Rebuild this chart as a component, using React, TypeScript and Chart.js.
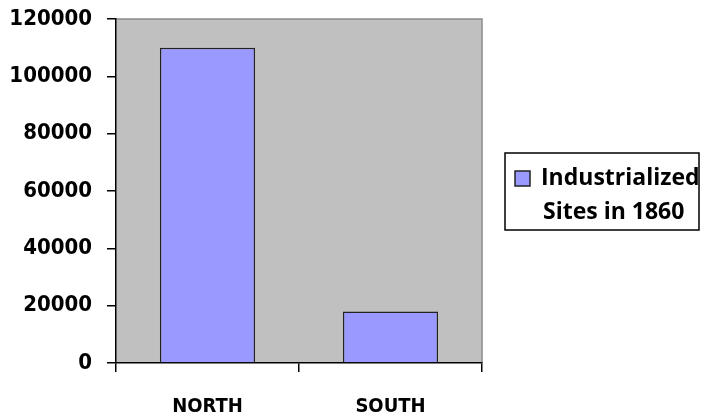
import React, { useEffect, useRef } from "react";
import { Chart, registerables } from "chart.js";

Chart.register(...registerables);

const CATEGORIES = ["NORTH", "SOUTH"];
const SITES_1860 = [110000, 18000];
const LEGEND_LINES = ["Industrialized", "Sites in 1860"];
const Y_MIN = 0;
const Y_MAX = 120000;
const Y_STEP = 20000;

const AXIS_FONT = "'DejaVu Sans Condensed', 'DejaVu Sans', sans-serif";

const plotBg = {
  id: "plotBg",
  beforeDraw(chart: any) {
    const { ctx, chartArea: a } = chart;
    ctx.save();
    ctx.fillStyle = "#c0c0c0";
    ctx.fillRect(a.left, a.top, a.right - a.left, a.bottom - a.top);
    ctx.strokeStyle = "#8a8a8a";
    ctx.lineWidth = 1.5;
    ctx.beginPath();
    ctx.moveTo(a.left, a.top);
    ctx.lineTo(a.right, a.top);
    ctx.lineTo(a.right, a.bottom);
    ctx.stroke();
    ctx.restore();
  },
};

const boxLegend = {
  id: "boxLegend",
  afterDraw(chart: any) {
    const { ctx } = chart;
    const ds = chart.data.datasets[0];
    ctx.save();
    ctx.strokeStyle = "#000";
    ctx.lineWidth = 1.5;
    ctx.strokeRect(505, 153, 194, 77);
    ctx.fillStyle = ds.backgroundColor;
    ctx.fillRect(515, 171, 15, 15);
    ctx.strokeStyle = "#222";
    ctx.strokeRect(515, 171, 15, 15);
    ctx.fillStyle = "#000";
    ctx.font = "bold 23px 'Open Sans', Lato, sans-serif";
    ctx.textBaseline = "middle";
    ctx.textAlign = "left";
    ctx.fillText(LEGEND_LINES[0], 541, 178);
    ctx.fillText(LEGEND_LINES[1], 543, 212);
    ctx.restore();
  },
};

export default function App() {
  const ref = useRef<HTMLCanvasElement | null>(null);
  useEffect(() => {
    if (!ref.current) return;
    const chart = new Chart(ref.current, {
      type: "bar",
      data: {
        labels: CATEGORIES,
        datasets: [
          {
            label: LEGEND_LINES.join(" "),
            data: SITES_1860,
            backgroundColor: "#9999ff",
            borderColor: "#222",
            borderWidth: 1.5,
            categoryPercentage: 1,
            barPercentage: 0.52,
          },
        ],
      },
      options: {
        animation: false,
        responsive: false,
        maintainAspectRatio: false,
        layout: { padding: { left: 0, top: 0, right: 219, bottom: 0 } },
        plugins: { legend: { display: false }, tooltip: { enabled: false } },
        scales: {
          x: {
            offset: true,
            grid: {
              offset: true,
              display: true,
              drawOnChartArea: false,
              drawTicks: true,
              tickLength: 9,
              color: "#000",
              lineWidth: 1.5,
            },
            border: { display: true, color: "#000", width: 1.5 },
            ticks: {
              color: "#000",
              padding: 23,
              font: { family: AXIS_FONT, weight: "bold", size: 20 },
            },
            afterFit: (s: any) => {
              s.height = 54;
            },
          },
          y: {
            min: Y_MIN,
            max: Y_MAX,
            grid: {
              display: true,
              drawOnChartArea: false,
              drawTicks: true,
              tickLength: 9,
              color: "#000",
              lineWidth: 1.5,
            },
            border: { display: true, color: "#000", width: 1.5 },
            ticks: {
              stepSize: Y_STEP,
              color: "#000",
              padding: 15,
              callback: (v: any) => String(v),
              font: { family: AXIS_FONT, weight: "bold", size: 22 },
            },
            afterFit: (s: any) => {
              s.width = 116;
              s.paddingTop = 19;
              s.paddingBottom = 0;
            },
          },
        },
      },
      plugins: [plotBg, boxLegend],
    });
    return () => chart.destroy();
  }, []);
  return (
    <div style={{ position: "fixed", left: 0, top: 0, width: 701, height: 417, background: "#fff" }}>
      <canvas ref={ref} width={701} height={417} style={{ width: 701, height: 417 }} />
    </div>
  );
}
